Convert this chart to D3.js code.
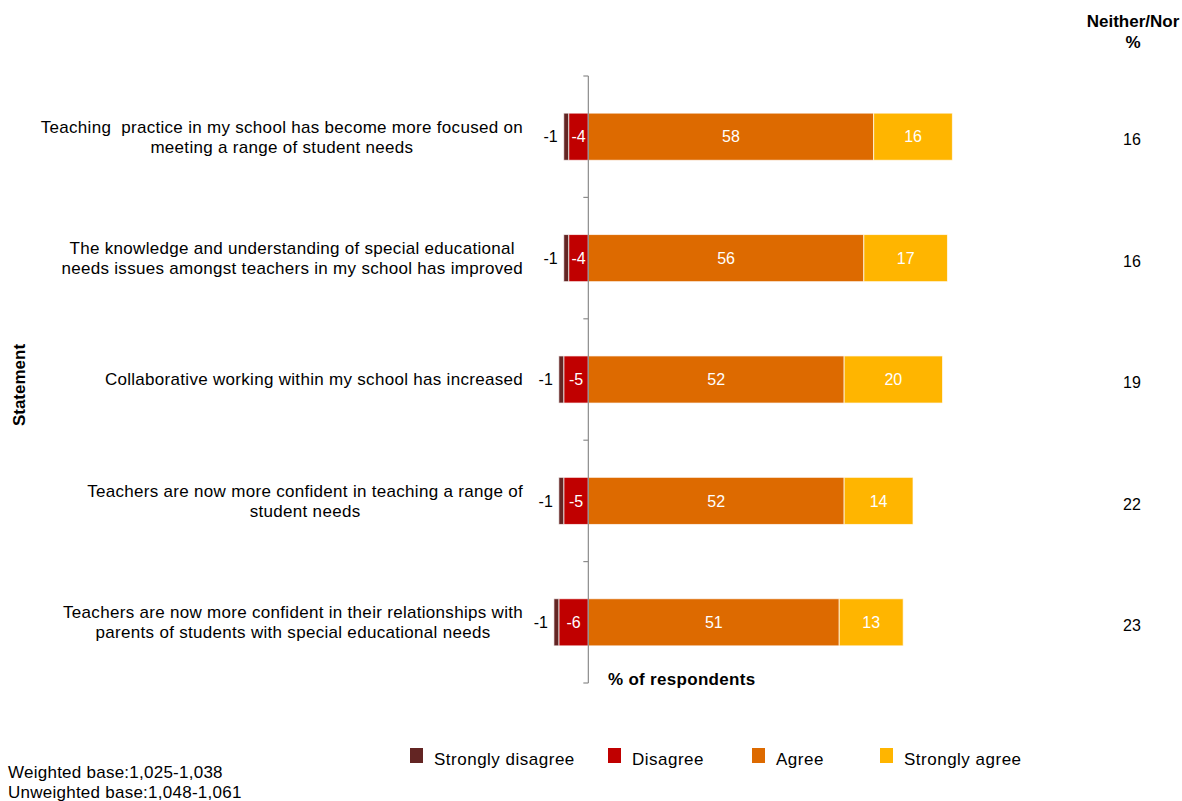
<!DOCTYPE html>
<html>
<head>
<meta charset="utf-8">
<script src="https://cdn.jsdelivr.net/npm/d3@7"></script>
<style>
  html, body { margin: 0; padding: 0; background: #fff; }
  svg { display: block; font-family: "Liberation Sans", Arial, sans-serif; }
</style>
</head>
<body>
<svg id="chart" width="1182" height="801"></svg>
<script>
// Statements (each entry is the list of wrapped lines)
const statements = [
  ["Teaching  practice in my school has become more focused on", "meeting a range of student needs"],
  ["The knowledge and understanding of special educational", "needs issues amongst teachers in my school has improved"],
  ["Collaborative working within my school has increased"],
  ["Teachers are now more confident in teaching a range of", "student needs"],
  ["Teachers are now more confident in their relationships with", "parents of students with special educational needs"]
];
// Percent of respondents per response
const stronglyDisagree = [-1, -1, -1, -1, -1];
const disagree         = [-4, -4, -5, -5, -6];
const agree            = [58, 56, 52, 52, 51];
const stronglyAgree    = [16, 17, 20, 14, 13];
const neitherNor       = [16, 16, 19, 22, 23];

const seriesNames  = ["Strongly disagree", "Disagree", "Agree", "Strongly agree"];
const seriesColors = ["#632523", "#C00000", "#DD6A00", "#FFB500"];

const svg = d3.select("#chart");

const x = d3.scaleLinear().domain([-7, 75]).range([553.9, 957.3]);
const y = d3.scaleBand().domain(d3.range(statements.length)).range([76, 683]).paddingInner(0.612).paddingOuter(0.306);

// Build stacked segments: negatives grow leftwards from zero, positives rightwards
const rows = statements.map((s, i) => {
  const segs = [];
  const d = disagree[i], sd = stronglyDisagree[i];
  segs.push({ k: 1, x0: d, x1: 0, v: d });
  segs.push({ k: 0, x0: d + sd, x1: d, v: sd });
  const a = agree[i], sa = stronglyAgree[i];
  segs.push({ k: 2, x0: 0, x1: a, v: a });
  segs.push({ k: 3, x0: a, x1: a + sa, v: sa });
  return { i, segs };
});

const g = svg.append("g");
const rowG = g.selectAll("g.row").data(rows).join("g").attr("class", "row");

rowG.selectAll("rect").data(r => r.segs.map(s => ({ ...s, i: r.i }))).join("rect")
  .attr("x", d => x(d.x0))
  .attr("y", d => y(d.i))
  .attr("width", d => x(d.x1) - x(d.x0))
  .attr("height", y.bandwidth())
  .attr("fill", d => seriesColors[d.k])
  .attr("stroke", "#fff")
  .attr("stroke-opacity", 0.7)
  .attr("stroke-width", 1);

// Value labels: inside for wide segments, outside-left for strongly disagree
rowG.selectAll("text.val").data(r => r.segs.map(s => ({ ...s, i: r.i }))).join("text")
  .attr("class", "val")
  .attr("x", d => d.k === 0 ? x(d.x0) - 6 : (x(d.x0) + x(d.x1)) / 2)
  .attr("y", d => y(d.i) + y.bandwidth() / 2)
  .attr("dy", "0.36em")
  .attr("text-anchor", d => d.k === 0 ? "end" : "middle")
  .attr("font-size", 16)
  .attr("fill", d => d.k === 0 ? "#000" : "#fff")
  .text(d => d.v);

// Vertical zero axis with band ticks on the left side
const axisX = x(0);
const yBounds = d3.range(statements.length + 1).map(k => 76 + k * (683 - 76) / statements.length);
g.append("line").attr("x1", axisX).attr("x2", axisX).attr("y1", 76).attr("y2", 683)
  .attr("stroke", "#8c8c8c").attr("stroke-width", 1.2);
g.selectAll("line.tick").data(yBounds).join("line").attr("class", "tick")
  .attr("x1", axisX - 5).attr("x2", axisX).attr("y1", d => d).attr("y2", d => d)
  .attr("stroke", "#8c8c8c").attr("stroke-width", 1.2);

// Statement labels: block right-aligned, lines centred within the block
const labelRight = 523;
statements.forEach((lines, i) => {
  const t = g.append("text").attr("font-size", 17).attr("letter-spacing", 0.3)
    .attr("fill", "#000").attr("text-anchor", "middle").style("white-space", "pre");
  const lh = 20;
  const cy = y(i) + y.bandwidth() / 2;
  const startY = cy - (lines.length - 1) * lh / 2;
  const spans = lines.map((l, j) => t.append("tspan").attr("y", startY + j * lh).attr("dy", "0.35em").text(l));
  const maxW = d3.max(spans, s => s.node().getComputedTextLength());
  spans.forEach(s => s.attr("x", labelRight - maxW / 2));
});

// Neither/Nor column
svg.append("text").attr("x", 1133).attr("y", 27).attr("text-anchor", "middle")
  .attr("font-size", 17).attr("font-weight", "bold").text("Neither/Nor");
svg.append("text").attr("x", 1133).attr("y", 48).attr("text-anchor", "middle")
  .attr("font-size", 17).attr("font-weight", "bold").text("%");
svg.selectAll("text.nn").data(neitherNor).join("text").attr("class", "nn")
  .attr("x", 1132).attr("y", (d, i) => y(i) + y.bandwidth() / 2 + 3).attr("dy", "0.36em")
  .attr("text-anchor", "middle").attr("font-size", 16).text(d => d);

// Axis titles
svg.append("text").attr("x", 608).attr("y", 685).attr("font-size", 17).attr("letter-spacing", 0.3)
  .attr("font-weight", "bold").text("% of respondents");
svg.append("text").attr("transform", "translate(25,385) rotate(-90)").attr("text-anchor", "middle")
  .attr("font-size", 17).attr("font-weight", "bold").text("Statement");

// Legend
const legendX = [410, 608, 752, 880];
const lg = svg.selectAll("g.leg").data(seriesNames).join("g").attr("class", "leg")
  .attr("transform", (d, i) => `translate(${legendX[i]},748)`);
lg.append("rect").attr("width", 13).attr("height", 15).attr("fill", (d, i) => seriesColors[i]);
lg.append("text").attr("x", 24).attr("y", 17).attr("font-size", 17).attr("letter-spacing", 0.5).text(d => d);

// Base notes
svg.append("text").attr("x", 8).attr("y", 778).attr("font-size", 17).attr("letter-spacing", 0.25)
  .text("Weighted base:1,025-1,038");
svg.append("text").attr("x", 8).attr("y", 798).attr("font-size", 17).attr("letter-spacing", 0.25)
  .text("Unweighted base:1,048-1,061");
</script>
</body>
</html>
